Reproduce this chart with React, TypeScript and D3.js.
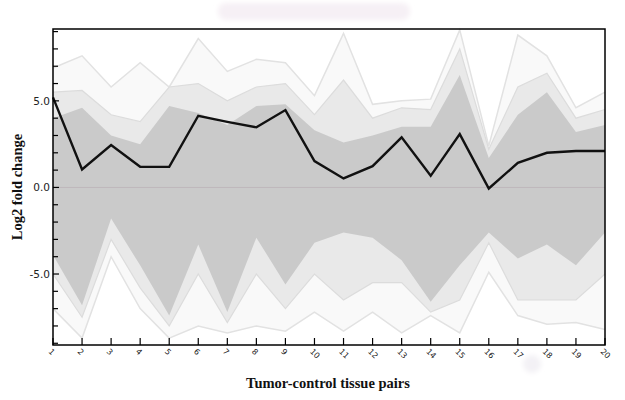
import React from "react";
import * as d3 from "d3";

const pairs = d3.range(1, 21);
const xTickLabels = pairs.map(String);
const yTickLabels = [
  { v: 5, t: "5.0" },
  { v: 0, t: "0.0" },
  { v: -5, t: "-5.0" },
];

// highlighted gene (black line)
const highlight = [5.2, 1.04, 2.45, 1.19, 1.19, 4.14, 3.79, 3.47, 4.47, 1.52, 0.52, 1.23, 2.89, 0.67, 3.08, -0.06, 1.42, 2.0, 2.1, 2.1];

// envelopes of the grey background genes
const coreUpper = [4.0, 4.6, 3.0, 2.5, 4.7, 4.3, 3.6, 4.7, 4.8, 3.3, 2.6, 3.0, 3.5, 3.5, 6.5, 1.7, 4.2, 5.5, 3.2, 3.6];
const midUpper = [5.5, 5.6, 4.2, 3.8, 5.8, 6.0, 5.0, 5.8, 6.0, 4.2, 6.2, 4.0, 4.6, 4.5, 8.0, 2.2, 5.8, 6.6, 4.0, 4.5];
const outerUpper = [6.9, 7.6, 5.8, 7.2, 5.8, 8.6, 6.7, 7.4, 7.2, 5.3, 8.9, 4.8, 5.0, 5.1, 9.1, 2.4, 8.8, 7.6, 4.6, 5.5];
const coreLower = [-3.9, -6.8, -1.8, -4.5, -7.4, -3.3, -7.2, -2.9, -5.6, -3.2, -2.6, -2.9, -4.2, -6.6, -4.5, -2.6, -4.1, -3.3, -4.5, -2.6];
const midLower = [-5.0, -7.5, -3.0, -5.8, -8.0, -5.0, -7.8, -5.0, -7.0, -5.0, -6.5, -5.5, -5.5, -7.2, -6.5, -3.2, -6.5, -6.5, -6.5, -5.0];
const outerLower = [-7.0, -8.7, -4.0, -7.0, -8.7, -8.0, -8.4, -8.0, -8.3, -7.2, -8.3, -7.2, -8.4, -7.4, -8.4, -4.9, -7.4, -7.9, -7.8, -8.2];

const W = 625;
const H = 400;
const L = 53, R = 605, T = 29, B = 345;

export default function App() {
  const x = d3.scaleLinear().domain([1, 20]).range([L, R]);
  const y = d3.scaleLinear().domain([-9.1, 9.15]).range([B, T]);

  const band = (lo: number[], hi: number[]) =>
    d3.area<number>()
      .x((_, i) => x(pairs[i]))
      .y0((_, i) => y(lo[i]))
      .y1((_, i) => y(hi[i]))(lo) as string;
  const line = (vals: number[]) =>
    d3.line<number>().x((_, i) => x(pairs[i])).y((d) => y(d))(vals) as string;

  const minorTicks = d3.range(-9, 10);

  return (
    <svg width={W} height={H} style={{ position: "absolute", left: 0, top: 0, background: "#fff" }}>
      <defs>
        <filter id="blur" x="-20%" y="-50%" width="140%" height="200%">
          <feGaussianBlur stdDeviation="2.5" />
        </filter>
      </defs>
      <rect x={218} y={3} width={192} height={17} rx={8} fill="#f6f0f5" filter="url(#blur)" />
      <circle cx={532} cy={364} r={9} fill="#f3f1f5" filter="url(#blur)" />

      <path d={band(outerLower, outerUpper)} fill="#f9f9f9" />
      <path d={line(outerUpper)} fill="none" stroke="#e2e2e2" strokeWidth={1.5} />
      <path d={line(outerLower)} fill="none" stroke="#e2e2e2" strokeWidth={1.5} />
      <path d={band(midLower, midUpper)} fill="#e9e9e9" />
      <path d={line(midUpper)} fill="none" stroke="#dcdcdc" strokeWidth={1.2} />
      <path d={line(midLower)} fill="none" stroke="#dcdcdc" strokeWidth={1.2} />
      <path d={band(coreLower, coreUpper)} fill="#cacaca" />
      <line x1={L} x2={R} y1={y(0)} y2={y(0)} stroke="#bfb7bb" strokeWidth={1} />

      <path d={line(highlight)} fill="none" stroke="#111" strokeWidth={2.4} strokeLinejoin="miter" />

      {/* frame */}
      <rect x={L} y={T} width={R - L} height={B - T} fill="none" stroke="#000" strokeWidth={1.5} />

      {/* y ticks */}
      {minorTicks.map((v) => (
        <line key={v} x1={L} x2={L + (v % 5 === 0 ? 6 : 5)} y1={y(v)} y2={y(v)} stroke="#000" strokeWidth={1.2} />
      ))}
      {yTickLabels.map((d) => (
        <text key={d.t} x={50} y={y(d.v) + 4} textAnchor="end" fontFamily="DejaVu Sans, sans-serif" fontSize={10.5} fill="#222">
          {d.t}
        </text>
      ))}

      {/* x ticks */}
      {pairs.map((p, i) => (
        <g key={p}>
          <line x1={x(p)} x2={x(p)} y1={B} y2={B - 7} stroke="#000" strokeWidth={1.2} />
          <text
            transform={`translate(${x(p) - 5},${B + 7}) rotate(45)`}
            fontFamily="DejaVu Sans, sans-serif"
            fontSize={8}
            fill="#222"
          >
            {xTickLabels[i]}
          </text>
        </g>
      ))}

      <text x={328} y={388} textAnchor="middle" fontFamily="Liberation Serif, Times New Roman, serif" fontWeight="bold" fontSize={14.5} fill="#111">
        Tumor-control tissue pairs
      </text>
      <text
        transform={`translate(22,187) rotate(-90)`}
        textAnchor="middle"
        fontFamily="Liberation Serif, Times New Roman, serif"
        fontWeight="bold"
        fontSize={14.5}
        fill="#111"
      >
        Log2 fold change
      </text>
    </svg>
  );
}
